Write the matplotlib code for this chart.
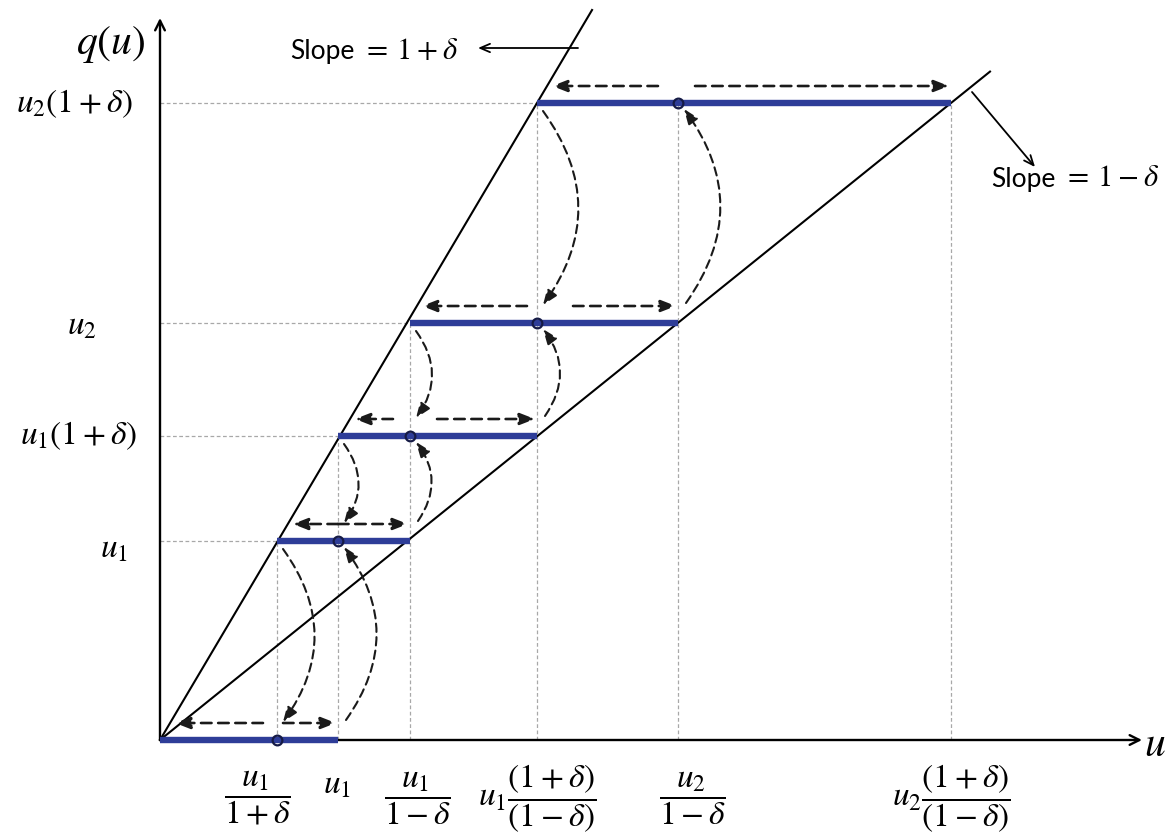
import matplotlib
matplotlib.use("Agg")
import matplotlib.pyplot as plt
from matplotlib.offsetbox import TextArea, HPacker, AnnotationBbox

# values (units ~ pixels from the origin)
u_ticks = [117, 178, 250, 377, 518, 791]
u_labels = [
    r"$\dfrac{u_1}{1+\delta}$",
    r"$u_1$",
    r"$\dfrac{u_1}{1-\delta}$",
    r"$u_1\dfrac{(1+\delta)}{(1-\delta)}$",
    r"$\dfrac{u_2}{1-\delta}$",
    r"$u_2\dfrac{(1+\delta)}{(1-\delta)}$",
]
q_levels = [199, 304, 417, 637]
q_labels = [r"$u_1$", r"$u_1(1+\delta)$", r"$u_2$", r"$u_2(1+\delta)$"]
slope_labels = [r"$=\:1\:+\:\delta$", r"$=\:1\:-\:\delta$"]

# label placement tweaks (layout only)
u_label_dx = [-20, -1, 7, 0, 14, 0]
u_label_y = [-58, -44, -58, -58, -58, -58]
q_label_x = [-46, -81, -78, -85]
q_label_dy = [-7, 0, -2, 0]
left_gap = [14, 0, 17, 10, 20]
right_gap = [6, 0, 27, 36, 17]

plt.rcParams["mathtext.fontset"] = "stix"
BLUE = "#2e3d98"
GUIDE = "#a8a8a8"

fig = plt.figure(figsize=(11.68, 8.39), dpi=100)
ax = fig.add_axes([0, 0, 1, 1])
ax.set_xlim(-160, 1008)
ax.set_ylim(-99, 740)
ax.axis("off")

levels = [0] + q_levels
seg_start = [0] + u_ticks[:4]
seg_end = u_ticks[1:]
circles = u_ticks[:5]

steep = q_levels[3] / u_ticks[3]
shallow = q_levels[3] / u_ticks[5]

# guide lines
for k in range(1, 5):
    ax.plot([0, seg_start[k]], [levels[k], levels[k]], color=GUIDE, lw=0.9,
            ls=(0, (3, 2)), zorder=1)
for i, x in enumerate(u_ticks):
    top = levels[min(i + 1, 4)]
    ax.plot([x, x], [0, top], color=GUIDE, lw=0.9, ls=(0, (3, 2)), zorder=1)

# slope lines
ax.plot([0, 730 / steep], [0, 730], color="black", lw=1.5, zorder=3)
ax.plot([0, 830], [0, 830 * shallow], color="black", lw=1.5, zorder=3)

# axes with arrows
ax.annotate("", xy=(982, 0), xytext=(0, 0),
            arrowprops=dict(arrowstyle="->,head_length=0.7,head_width=0.35",
                            lw=1.7, color="black", shrinkA=0, shrinkB=0))
ax.annotate("", xy=(0, 722), xytext=(0, 0),
            arrowprops=dict(arrowstyle="->,head_length=0.7,head_width=0.35",
                            lw=1.7, color="black", shrinkA=0, shrinkB=0))

# blue intervals and points
for k in range(5):
    ax.plot([seg_start[k], seg_end[k]], [levels[k], levels[k]], color=BLUE,
            lw=4.6, solid_capstyle="butt", zorder=4)
ax.plot(circles, levels, "o", ms=7, mfc="none", mec="#151a45", mew=1.6, zorder=6)

# dashed horizontal arrows above each interval
hstyle = dict(arrowstyle="-|>,head_length=0.9,head_width=0.35", lw=1.9,
              color="#1a1a1a", ls=(0, (4, 2.5)), shrinkA=0, shrinkB=0)
for k in range(5):
    y = levels[k] + 17
    xl = y / steep + 5
    xr = seg_end[k] - 2
    ax.annotate("", xy=(xl, y), xytext=(circles[k] - left_gap[k], y),
                arrowprops=hstyle)
    ax.annotate("", xy=(xr, y), xytext=(circles[k] + right_gap[k], y),
                arrowprops=hstyle)

# curved dashed arrows between levels
for k in range(4):
    ax.annotate("", xy=(circles[k] + 6, levels[k] + 18),
                xytext=(seg_start[k + 1] + 6, levels[k + 1] - 8),
                arrowprops=dict(arrowstyle="-|>,head_length=0.9,head_width=0.35",
                                lw=1.5, color="#1a1a1a", ls=(0, (4, 2.5)),
                                connectionstyle="arc3,rad=-0.36",
                                shrinkA=0, shrinkB=0))
    ax.annotate("", xy=(circles[k + 1] + 6, levels[k + 1] - 6),
                xytext=(seg_end[k] + 8, levels[k] + 20),
                arrowprops=dict(arrowstyle="-|>,head_length=0.9,head_width=0.35",
                                lw=1.5, color="#1a1a1a", ls=(0, (4, 2.5)),
                                connectionstyle="arc3,rad=0.36",
                                shrinkA=0, shrinkB=0))


def slope_text(xy, math, align):
    box = HPacker(children=[
        TextArea("Slope", textprops=dict(fontsize=19, family="Lato")),
        TextArea(math, textprops=dict(fontsize=22)),
    ], align="baseline", pad=0, sep=6)
    ab = AnnotationBbox(box, xy, xycoords="data", frameon=False,
                        box_alignment=align, pad=0)
    ax.add_artist(ab)


# slope annotations
ax.annotate("", xy=(318, 692), xytext=(418, 692),
            arrowprops=dict(arrowstyle="->,head_length=0.7,head_width=0.3",
                            lw=1.3, color="black", shrinkA=0, shrinkB=0))
slope_text((299, 690), slope_labels[0], (1, 0.5))
ax.annotate("", xy=(875, 573), xytext=(812, 648),
            arrowprops=dict(arrowstyle="->,head_length=0.7,head_width=0.3",
                            lw=1.3, color="black", shrinkA=0, shrinkB=0))
slope_text((1000, 562), slope_labels[1], (1, 0.5))

# axis labels
ax.text(-15, 696, r"$q(u)$", ha="right", va="center", fontsize=30)
ax.text(984, -4, r"$u$", ha="left", va="center", fontsize=30)

for i, lab in enumerate(u_labels):
    ax.text(u_ticks[i] + u_label_dx[i], u_label_y[i], lab, ha="center",
            va="center", fontsize=24)
for i, lab in enumerate(q_labels):
    ax.text(q_label_x[i], q_levels[i] + q_label_dy[i], lab, ha="center",
            va="center", fontsize=24)

fig.savefig("out.png", dpi=100)
